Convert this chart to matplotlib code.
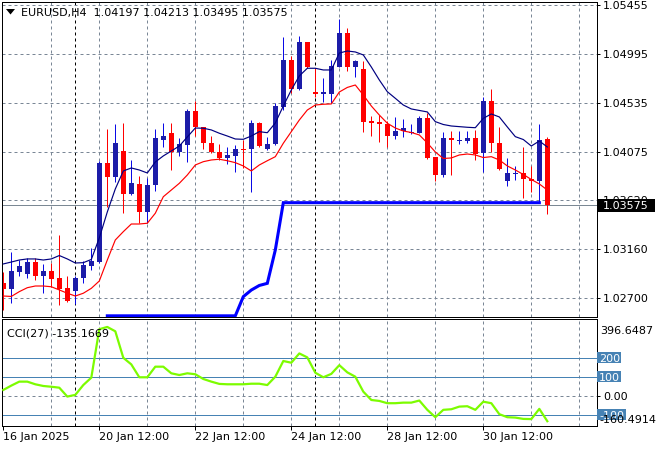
import numpy as np
import matplotlib
matplotlib.use("Agg")
import matplotlib.pyplot as plt
from matplotlib.patches import Rectangle, Polygon
from matplotlib.transforms import Affine2D, ScaledTranslation, blended_transform_factory

nan = np.nan
symbol = "EURUSD,H4"

opens = [1.02845, 1.02789, 1.02952, 1.02930, 1.03043, 1.02914, 1.02955, 1.02892, 1.02798, 1.02770,
         1.02895, 1.03008, 1.03046, 1.03975, 1.03843, 1.04085, 1.03681, 1.03775, 1.03515, 1.03765,
         1.04188, 1.04256, 1.04078, 1.04141, 1.04463, 1.04307, 1.04157, 1.04072, 1.04022, 1.04041,
         1.04106, 1.04100, 1.04344, 1.04103, 1.04147, 1.04500, 1.04939, 1.04667, 1.05105, 1.04641,
         1.04624, 1.04617, 1.04876, 1.05195, 1.04876, 1.04854, 1.04369, 1.04357, 1.04338, 1.04225,
         1.04272, 1.04249, 1.04256, 1.04397, 1.04025, 1.03859, 1.04204, 1.04175, 1.04178, 1.04209,
         1.04063, 1.04554, 1.04162, 1.03806, 1.03868, 1.03875, 1.03821, 1.03806, 1.04197]
highs = [1.02949, 1.03133, 1.03061, 1.03080, 1.03080, 1.03024, 1.03036, 1.03296, 1.02911, 1.02911,
         1.03055, 1.03177, 1.03995, 1.04291, 1.04338, 1.04344, 1.04000, 1.03850, 1.03827, 1.04291,
         1.04344, 1.04344, 1.04204, 1.04476, 1.04549, 1.04310, 1.04225, 1.04150, 1.04119, 1.04138,
         1.04188, 1.04375, 1.04353, 1.04218, 1.04538, 1.05152, 1.04979, 1.05167, 1.05108, 1.04866,
         1.04767, 1.04939, 1.05328, 1.05242, 1.04939, 1.04929, 1.04413, 1.04422, 1.04369, 1.04401,
         1.04382, 1.04338, 1.04416, 1.04438, 1.04028, 1.04266, 1.04275, 1.04275, 1.04275, 1.04282,
         1.04594, 1.04666, 1.04313, 1.04016, 1.03944, 1.04125, 1.03944, 1.04335, 1.04213]
lows = [1.02592, 1.02660, 1.02911, 1.02889, 1.02873, 1.02755, 1.02805, 1.02636, 1.02667, 1.02648,
        1.02848, 1.02967, 1.03033, 1.03561, 1.03793, 1.03505, 1.03671, 1.03411, 1.03411, 1.03712,
        1.04125, 1.03906, 1.04037, 1.03984, 1.04225, 1.04106, 1.04063, 1.04000, 1.03962, 1.03884,
        1.03928, 1.03702, 1.04119, 1.04094, 1.04145, 1.04469, 1.04626, 1.04657, 1.04868, 1.04594,
        1.04547, 1.04538, 1.04873, 1.04838, 1.04782, 1.04266, 1.04225, 1.04172, 1.04125, 1.04194,
        1.04213, 1.04244, 1.04250, 1.04006, 1.03806, 1.03837, 1.03859, 1.04150, 1.04157, 1.04000,
        1.03890, 1.04078, 1.03906, 1.03759, 1.03812, 1.03640, 1.03702, 1.03608, 1.03495]
closes = [1.02789, 1.02958, 1.03005, 1.03043, 1.02914, 1.02955, 1.02886, 1.02789, 1.02676, 1.02892,
          1.03014, 1.03052, 1.03975, 1.03843, 1.04162, 1.03681, 1.03780, 1.03515, 1.03765, 1.04204,
          1.04225, 1.04078, 1.04150, 1.04463, 1.04305, 1.04157, 1.04078, 1.04022, 1.04047, 1.04103,
          1.04091, 1.04344, 1.04131, 1.04147, 1.04507, 1.04939, 1.04667, 1.05105, 1.04876, 1.04617,
          1.04629, 1.04882, 1.05195, 1.04876, 1.04929, 1.04359, 1.04350, 1.04338, 1.04228, 1.04272,
          1.04297, 1.04263, 1.04397, 1.04022, 1.03859, 1.04204, 1.04185, 1.04188, 1.04209, 1.04056,
          1.04554, 1.04157, 1.03912, 1.03875, 1.03873, 1.03821, 1.03806, 1.04188, 1.03575]

ma_navy = [1.03024, 1.03042, 1.03061, 1.03071, 1.03071, 1.03061, 1.03071, 1.03103, 1.03071, 1.03033,
           1.03036, 1.03066, 1.03268, 1.03512, 1.03728, 1.03897, 1.03925, 1.03906, 1.03878, 1.03981,
           1.04038, 1.04084, 1.04131, 1.04216, 1.04300, 1.04298, 1.04282, 1.04251, 1.04225, 1.04197,
           1.04194, 1.04225, 1.04266, 1.04256, 1.04347, 1.04507, 1.04657, 1.04789, 1.04861, 1.04861,
           1.04845, 1.04845, 1.05004, 1.05023, 1.05014, 1.04986, 1.04873, 1.04751, 1.04641, 1.04579,
           1.04516, 1.04479, 1.04465, 1.04451, 1.04360, 1.04333, 1.04319, 1.04313, 1.04307, 1.04303,
           1.04391, 1.04432, 1.04404, 1.04310, 1.04219, 1.04192, 1.04131, 1.04178, 1.04122]
ma_red = [1.02723, 1.02719, 1.02764, 1.02801, 1.02817, 1.02817, 1.02810, 1.02780, 1.02749, 1.02723,
          1.02749, 1.02795, 1.02864, 1.03061, 1.03249, 1.03327, 1.03399, 1.03399, 1.03406, 1.03500,
          1.03655, 1.03718, 1.03781, 1.03859, 1.03953, 1.03984, 1.04000, 1.04007, 1.03993, 1.03975,
          1.03944, 1.03897, 1.03953, 1.03993, 1.04031, 1.04157, 1.04266, 1.04375, 1.04469, 1.04516,
          1.04523, 1.04526, 1.04638, 1.04681, 1.04704, 1.04610, 1.04507, 1.04422, 1.04345, 1.04300,
          1.04272, 1.04258, 1.04235, 1.04160, 1.04075, 1.04014, 1.04019, 1.04047, 1.04056, 1.04047,
          1.04023, 1.04031, 1.04000, 1.03944, 1.03906, 1.03864, 1.03817, 1.03775, 1.03718]
stop_line = [nan, nan, nan, nan, nan, nan, nan, nan, nan, nan,
             nan, nan, nan, 1.02537, 1.02537, 1.02537, 1.02537, 1.02537, 1.02537, 1.02537,
             1.02537, 1.02537, 1.02537, 1.02537, 1.02537, 1.02537, 1.02537, 1.02537, 1.02537, 1.02537,
             1.02717, 1.02779, 1.02822, 1.02842, 1.03155, 1.03599, 1.03599, 1.03599, 1.03599, 1.03599,
             1.03599, 1.03599, 1.03599, 1.03599, 1.03599, 1.03599, 1.03599, 1.03599, 1.03599, 1.03599,
             1.03599, 1.03599, 1.03599, 1.03599, 1.03599, 1.03599, 1.03599, 1.03599, 1.03599, 1.03599,
             1.03599, 1.03599, 1.03599, 1.03599, 1.03599, 1.03599, 1.03599, 1.03599, nan]

cci_period = 27
cci = [30, 53, 74, 74, 60, 51, 47, 42, -5, 4,
       56, 95, 351, 363, 340, 200, 165, 97, 97, 153,
       153, 118, 109, 118, 113, 88, 74, 62, 60, 60,
       60, 63, 63, 56, 100, 183, 174, 223, 202, 121,
       97, 115, 161, 123, 100, 21, -23, -28, -40, -40,
       -37, -37, -26, -75, -114, -75, -72, -58, -56, -75,
       -32, -40, -98, -114, -116, -123, -124, -70, -135.1669]
cci_levels = [200, 100, -100]
cci_scale_max = 396.6487
cci_scale_min = -160.4914

price_ticks = [1.05455, 1.04995, 1.04535, 1.04075, 1.03620, 1.03160, 1.02700]
price_tick_labels = ["1.05455", "1.04995", "1.04535", "1.04075", "1.03620", "1.03160", "1.02700"]
date_tick_bars = [0, 12, 24, 36, 48, 60]
date_tick_labels = ["16 Jan 2025", "20 Jan 12:00", "22 Jan 12:00", "24 Jan 12:00",
                    "28 Jan 12:00", "30 Jan 12:00"]
grid_bars = [6, 12, 18, 24, 30, 36, 42, 48, 54, 60, 66, 72]
week_sep_bars = [9, 39]

# ---------------------------------------------------------------- layout
W, H = 660, 450
fig = plt.figure(figsize=(W / 100, H / 100), dpi=100)
fig.patch.set_facecolor("white")


def frame(x0, y0, x1, y1):
    return [x0 / W, 1 - y1 / H, (x1 - x0) / W, (y1 - y0) / H]


ax = fig.add_axes(frame(2, 2, 597, 317))
axc = fig.add_axes(frame(2, 319, 597, 426), sharex=ax)

PX = 0.72  # one pixel in points
GRID = "#7a8796"
BULL_BODY = "#1c1ca8"
BULL_WICK = "#0a0ae6"
BEAR = "#ff0000"

x = np.arange(len(opens))
o = np.array(opens); h = np.array(highs); l = np.array(lows); c = np.array(closes)
up = c >= o

ax.set_xlim(-0.1625, 74.21)
ax.set_ylim(1.02526, 1.05483)
axc.set_ylim(cci_scale_min, 405.0)

# grids
ax.set_yticks(price_ticks)
ax.set_yticklabels(price_tick_labels)
ax.grid(axis="y", color=GRID, linestyle=(0, (3, 3)), linewidth=PX)
for b in grid_bars:
    for a in (ax, axc):
        a.axvline(b, color=GRID, linestyle=(0, (3, 3)), linewidth=PX, zorder=0.5)
for b in week_sep_bars:
    for a in (ax, axc):
        a.axvline(b, color="black", linestyle=(0, (3, 3)), linewidth=PX, zorder=0.6)

# candles
minh = 1.2 * (1.05483 - 1.02526) / 315
ax.vlines(x[up], l[up], h[up], color=BULL_WICK, linewidth=PX, zorder=2)
ax.vlines(x[~up], l[~up], h[~up], color=BEAR, linewidth=PX, zorder=2)
body_lo = np.minimum(o, c)
body_h = np.maximum(np.abs(c - o), minh)
ax.bar(x, body_h, width=0.6, bottom=body_lo,
       color=[BULL_BODY if u else BEAR for u in up], linewidth=0, zorder=2.1)

# indicator lines
ax.plot(x, ma_navy, color="#000080", linewidth=0.85, zorder=3)
ax.plot(x, ma_red, color="#ff0000", linewidth=0.85, zorder=3)
ax.plot(x, stop_line, color="#0000ff", linewidth=2.2, zorder=3.2, solid_joinstyle="miter")

# current price line
last = closes[-1]
ax.axhline(last, color="#7b8894", linewidth=PX, zorder=1.5)

# axes styling
for a in (ax, axc):
    for s in a.spines.values():
        s.set_color("black")
        s.set_linewidth(PX)
    a.set_facecolor("white")

ax.yaxis.tick_right()
ax.tick_params(axis="y", length=3 * PX, width=PX, pad=3 * PX, labelsize=8, colors="black")
ax.tick_params(axis="x", bottom=False, labelbottom=False)

# CCI pane
axc.plot(x, cci, color="#7cfc00", linewidth=1.6, zorder=3)
for lv in cci_levels:
    axc.axhline(lv, color="#4682b4", linewidth=PX, zorder=1)
axc.yaxis.tick_right()
axc.set_yticks([0])
axc.set_yticklabels(["0.00"])
axc.grid(axis="y", color=GRID, linestyle=(0, (3, 3)), linewidth=PX)
axc.tick_params(axis="y", length=3 * PX, width=PX, pad=3 * PX, labelsize=8, colors="black")
axc.set_xticks(date_tick_bars)
axc.set_xticklabels(date_tick_labels)
axc.tick_params(axis="x", length=4 * PX, width=PX, pad=1.5, labelsize=8, colors="black")
for lbl in axc.get_xticklabels():
    lbl.set_horizontalalignment("left")


# pixel-offset helper anchored at (axes x, data y)
def px_trans(a, ax_x, yval):
    base = blended_transform_factory(a.transAxes, a.transData)
    return Affine2D().scale(fig.dpi / 100) + ScaledTranslation(ax_x, yval, base)


# current price box
t = px_trans(ax, 1.0, last)
ax.add_patch(Rectangle((1, -6.5), 57, 13, transform=t, facecolor="black",
                       edgecolor="none", clip_on=False, zorder=10))
ax.text(6, 0, f"{last:.5f}", transform=t, color="white", fontsize=8,
        va="center_baseline", ha="left", clip_on=False, zorder=11)

# CCI level label boxes
for lv in cci_levels:
    t = px_trans(axc, 1.0, lv)
    s = f"{lv:d}"
    wbox = 24 if len(s) == 3 else 29
    axc.add_patch(Rectangle((0, -5.5), wbox, 11, transform=t, facecolor="#4682b4",
                            edgecolor="none", clip_on=False, zorder=10))
    axc.text(2, 0, s, transform=t, color="white", fontsize=8,
             va="center_baseline", ha="left", clip_on=False, zorder=11)

t = px_trans(axc, 1.0, cci_scale_max)
axc.text(3, -9.5, f"{cci_scale_max:.4f}", transform=t, color="black", fontsize=8,
         va="center_baseline", ha="left", clip_on=False, zorder=12)
t = px_trans(axc, 1.0, cci_scale_min)
axc.text(2, 7, f"{cci_scale_min:.4f}", transform=t, color="black", fontsize=8,
         va="center_baseline", ha="left", clip_on=False, zorder=12)

# header texts (figure pixel coordinates, y downwards)
fig_px = Affine2D().scale(1, -1).translate(0, H) + Affine2D().scale(fig.dpi / 100)
fig.patches.append(Polygon([(6, 9), (15, 9), (10.5, 14.5)], closed=True,
                           transform=fig_px, facecolor="black", edgecolor="none"))
header = f"{symbol}  {opens[-1]:.5f} {highs[-1]:.5f} {lows[-1]:.5f} {closes[-1]:.5f}"
fig.text(21, 12, header, transform=fig_px, fontsize=8, color="black",
         va="center_baseline", ha="left")
fig.text(7, 332, f"CCI({cci_period}) {cci[-1]:.4f}", transform=fig_px, fontsize=8,
         color="black", va="center_baseline", ha="left", zorder=5)

fig.savefig("out.png", dpi=100, facecolor="white")
